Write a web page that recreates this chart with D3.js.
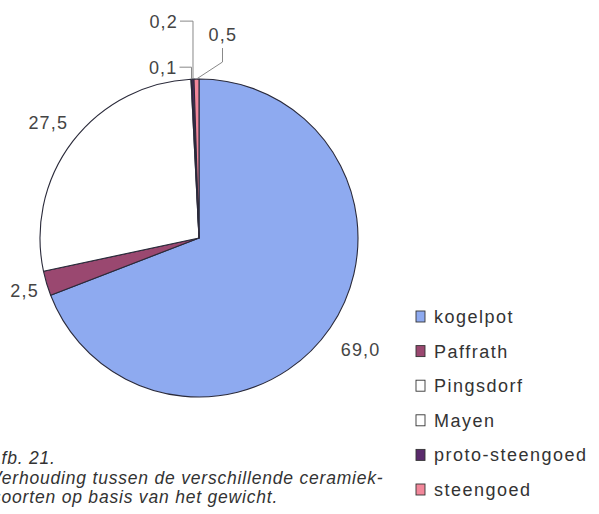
<!DOCTYPE html>
<html><head><meta charset="utf-8">
<script src="https://cdn.jsdelivr.net/npm/d3@7"></script>
<style>body{margin:0;background:#fff}svg{display:block}</style>
</head><body>
<script>
const categories = ["kogelpot","Paffrath","Pingsdorf","Mayen","proto-steengoed","steengoed"];
const values = [69.0, 2.5, 27.5, 0.1, 0.2, 0.5];
const valueLabels = ["69,0","2,5","27,5","0,1","0,2","0,5"];
const colors = ["#8eaaf0","#9a4870","#ffffff","#ffffff","#5a2a6c","#f2879a"];
const captionLines = ["Afb. 21.","Verhouding tussen de verschillende ceramiek-","soorten op basis van het gewicht."];

const W = 599, H = 514;
const cx = 199, cy = 238, R = 159;
const svg = d3.select("body").append("svg").attr("width", W).attr("height", H);

const data = categories.map((c,i)=>({cat:c, value:values[i], label:valueLabels[i], color:colors[i]}));
const pie = d3.pie().sort(null).value(d=>d.value);
const arcs = pie(data);
const arc = d3.arc().innerRadius(0).outerRadius(R);

const g = svg.append("g").attr("transform", `translate(${cx},${cy})`);
g.selectAll("path").data(arcs).join("path")
  .attr("d", arc)
  .attr("fill", d=>d.data.color)
  .attr("stroke", "#2a2a3a")
  .attr("stroke-width", 1.1)
  .attr("stroke-linejoin","round");

const font = "'Liberation Sans', Arial, sans-serif";
// big labels outside ("best fit" distance per slice)
const labelRadius = {"kogelpot":196, "Paffrath":182, "Pingsdorf":190};
g.selectAll("text.big").data(arcs.filter(d=>d.data.value>=1)).join("text")
  .attr("class","big")
  .attr("x", d=>d3.arc().innerRadius(labelRadius[d.data.cat]).outerRadius(labelRadius[d.data.cat]).centroid(d)[0])
  .attr("y", d=>d3.arc().innerRadius(labelRadius[d.data.cat]).outerRadius(labelRadius[d.data.cat]).centroid(d)[1]+7)
  .attr("text-anchor","middle")
  .attr("font-family", font).attr("font-size", 18).attr("letter-spacing",1.2)
  .attr("fill","#444")
  .text(d=>d.data.label);

// small labels with leader lines (offsets relative to the slice's outer point)
const leaders = {
  "Mayen":           {tx:-14, ty:-5,  anchor:"end",   pts:[[-12,-12],[0,-12],[0,0]]},
  "proto-steengoed": {tx:-15, ty:-51, anchor:"end",   pts:[[-13,-58],[0,-58],[0,0]]},
  "steengoed":       {tx:12,  ty:-38, anchor:"start", pts:[[26,-31],[26,-17],[0,0]]}
};
arcs.filter(d=>d.data.value<1).forEach(d=>{
  const a = (d.startAngle+d.endAngle)/2;
  const px = Math.sin(a)*R, py = -Math.cos(a)*R;
  const L = leaders[d.data.cat];
  g.append("path").attr("d", d3.line()(L.pts.map(p=>[px+p[0], py+p[1]])))
    .attr("fill","none").attr("stroke","#888").attr("stroke-width",1);
  g.append("text").attr("x",px+L.tx).attr("y",py+L.ty).attr("text-anchor",L.anchor)
    .attr("font-family",font).attr("font-size",18).attr("letter-spacing",1.2)
    .attr("fill","#444").text(d.data.label);
});

// legend
const leg = svg.append("g").attr("transform","translate(416,311)");
const rowH = 34.6;
const items = leg.selectAll("g").data(data).join("g")
  .attr("transform",(d,i)=>`translate(0,${i*rowH})`);
items.append("rect").attr("x",0).attr("y",0).attr("width",9).attr("height",11)
  .attr("fill",d=>d.color).attr("stroke","#333").attr("stroke-width",0.9);
items.append("text").attr("x",18).attr("y",12)
  .attr("font-family",font).attr("font-size",18).attr("letter-spacing",1.5)
  .attr("fill","#333").text(d=>d.cat);

// caption
svg.append("g").selectAll("text").data(captionLines).join("text")
  .attr("x",(d,i)=>[-11,-10,-8][i])
  .attr("y",(d,i)=>464+i*19.5)
  .attr("font-family",font).attr("font-style","italic").attr("font-size",17.5)
  .attr("letter-spacing",0.8)
  .attr("fill","#333").text(d=>d);
</script>
</body></html>
